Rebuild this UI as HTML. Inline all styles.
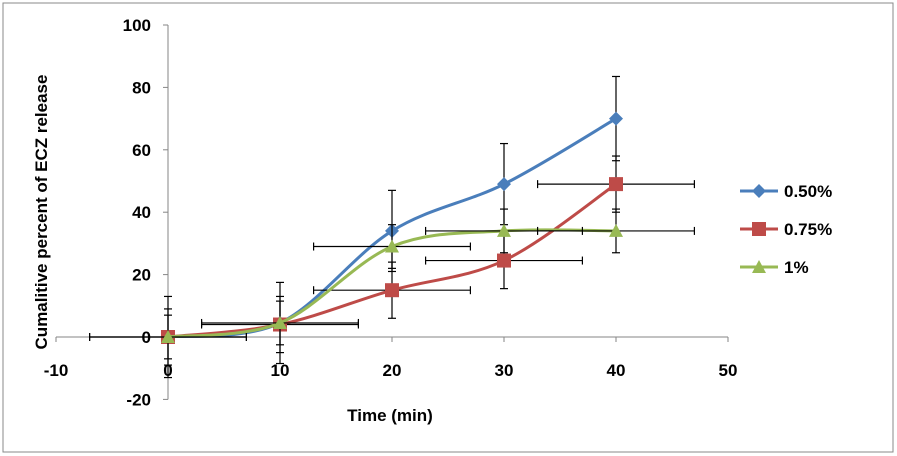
<!DOCTYPE html>
<html><head><meta charset="utf-8"><style>
body{margin:0;background:#fff;}
svg{display:block;font-family:"Liberation Sans",Arial,sans-serif;}
</style></head><body>
<svg id="chart" width="897" height="456">
<rect x="3" y="3" width="890" height="449" fill="#fff" stroke="#888"/>
<g id="axes"></g><g id="series"></g><g id="legend"></g>
<text x="390" y="421" text-anchor="middle" font-size="17" font-weight="bold">Time (min)</text>
<text transform="translate(47,212) rotate(-90)" text-anchor="middle" font-size="17" font-weight="bold">Cumalitive percent of ECZ release</text>
</svg>
<script>
const times=[0,10,20,30,40];
const names=["0.50%","0.75%","1%"];
const colors=["#4a7ebb","#be4b48","#98b954"];
const s050=[0,4.5,34,49,70];
const s075=[0,4,15,24.5,49];
const s1=[0,4.5,29,34,34];
const yerr050=[13,13,13,13,13.5];
const yerr075=[9,9,9,9,9];
const yerr1=[7,7,7,7,7];
const xerr050=[0,0,0,0,0];
const xerr075=[7,7,7,7,7];
const xerr1=[7,7,7,7,7];
const xTicks=[-10,0,10,20,30,40,50];
const yTicks=[-20,0,20,40,60,80,100];
const series=[s050,s075,s1],yerrs=[yerr050,yerr075,yerr1],xerrs=[xerr050,xerr075,xerr1];
const NS="http://www.w3.org/2000/svg";
const X=v=>168+(v)*11.2, Y=v=>337-v*3.12;
function mk(tag,attrs,parent){const e=document.createElementNS(NS,tag);for(const k in attrs)e.setAttribute(k,attrs[k]);parent.appendChild(e);return e;}
const axes=document.getElementById('axes'),sg=document.getElementById('series'),lg=document.getElementById('legend');
let a=mk('line',{x1:X(-10),x2:X(50),y1:Y(0),y2:Y(0),stroke:'#868686'},axes);


a=mk('line',{x1:X(0),x2:X(0),y1:Y(-20),y2:Y(100),stroke:'#868686'},axes);


xTicks.forEach(t=>{mk('line',{x1:X(t),x2:X(t),y1:Y(0),y2:Y(0)+5,stroke:'#868686'},axes);
 const tx=mk('text',{x:X(t),y:Y(0)+39,'text-anchor':'middle','font-size':17,'font-weight':'bold'},axes);tx.textContent=t;
 
 });
yTicks.forEach(t=>{mk('line',{x1:X(0)-5,x2:X(0),y1:Y(t),y2:Y(t),stroke:'#868686'},axes);
 const tx=mk('text',{x:X(0)-17,y:Y(t)+6,'text-anchor':'end','font-size':17,'font-weight':'bold'},axes);tx.textContent=t;
 
 });
function smooth(pts){let d=`M${pts[0][0]},${pts[0][1]}`;for(let i=0;i<pts.length-1;i++){const p0=pts[i-1]||pts[i],p1=pts[i],p2=pts[i+1],p3=pts[i+2]||p2;const k=1/6;
 d+=` C${p1[0]+(p2[0]-p0[0])*k},${p1[1]+(p2[1]-p0[1])*k} ${p2[0]-(p3[0]-p1[0])*k},${p2[1]-(p3[1]-p1[1])*k} ${p2[0]},${p2[1]}`;}return d;}
function marker(i,x,y,parent){let m;
 if(i===0)m=mk('polygon',{points:`${x},${y-7} ${x+7},${y} ${x},${y+7} ${x-7},${y}`,fill:colors[i]},parent);
 else if(i===1)m=mk('rect',{x:x-7,y:y-7,width:14,height:14,fill:colors[i]},parent);
 else m=mk('polygon',{points:`${x},${y-7} ${x+7},${y+6} ${x-7},${y+6}`,fill:colors[i]},parent);
 return m;}
series.forEach((s,i)=>{
 const g=mk('g',{},sg);
 
 
 const pts=times.map((t,j)=>[X(t),Y(s[j])]);
 mk('path',{d:smooth(pts),fill:'none',stroke:colors[i],'stroke-width':3},g);
 times.forEach((t,j)=>{
  const x=X(t),y=Y(s[j]),ye=yerrs[i][j],xe=xerrs[i][j];
  const eb=mk('g',{stroke:'#000','stroke-width':1.2},g);
  
  
  mk('line',{x1:x,x2:x,y1:Y(s[j]+ye),y2:Y(s[j]-ye)},eb);
  mk('line',{x1:x-4,x2:x+4,y1:Y(s[j]+ye),y2:Y(s[j]+ye)},eb);
  mk('line',{x1:x-4,x2:x+4,y1:Y(s[j]-ye),y2:Y(s[j]-ye)},eb);
  if(xe>0){mk('line',{x1:X(t-xe),x2:X(t+xe),y1:y,y2:y},eb);
   mk('line',{x1:X(t-xe),x2:X(t-xe),y1:y-4,y2:y+4},eb);
   mk('line',{x1:X(t+xe),x2:X(t+xe),y1:y-4,y2:y+4},eb);}
 });
 times.forEach((t,j)=>{const m=marker(i,X(t),Y(s[j]),g);
  
  });
});
names.forEach((n,i)=>{
 const y=191+i*38;
 const g=mk('g',{},lg);
 
 
 mk('line',{x1:740,x2:778,y1:y,y2:y,stroke:colors[i],'stroke-width':3},g);
 marker(i,759,y,g);
 const t=mk('text',{x:784,y:y+6,'font-size':17,'font-weight':'bold'},g);t.textContent=n;
});
</script>
</body></html>
